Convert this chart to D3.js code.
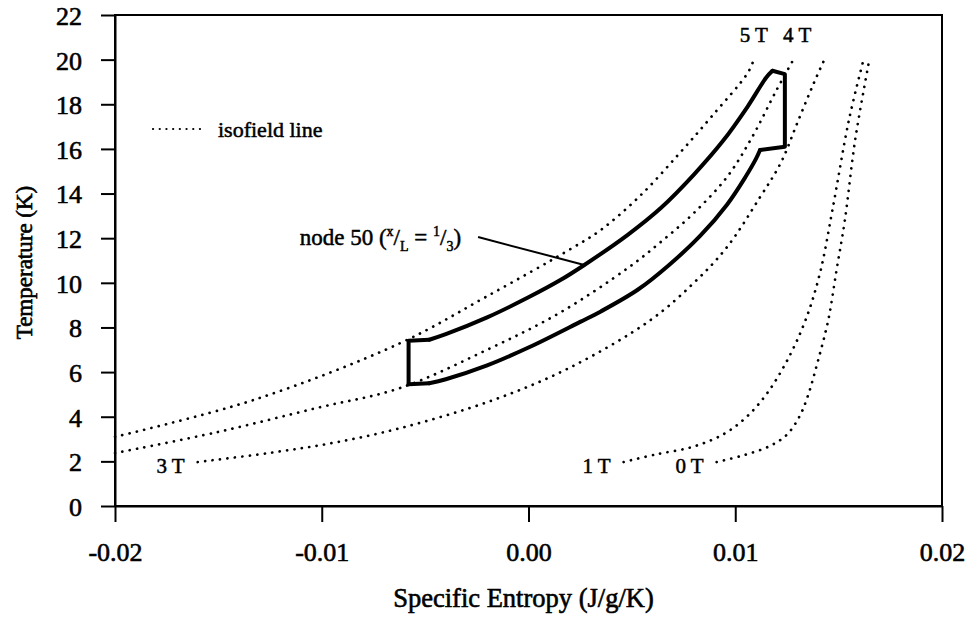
<!DOCTYPE html>
<html>
<head>
<meta charset="utf-8">
<script src="https://cdn.jsdelivr.net/npm/d3@7"></script>
<style>
  html, body { margin: 0; padding: 0; background: #fff; }
  svg { display: block; }
  text { font-family: "Liberation Serif", "Times New Roman", serif; fill: #000; }
</style>
</head>
<body>
<svg id="chart" width="971" height="617"></svg>
<script>
// Axis ticks
const xTickValues = [-0.02, -0.01, 0.00, 0.01, 0.02];
const xTickLabels = ["-0.02", "-0.01", "0.00", "0.01", "0.02"];
const yTickValues = [0, 2, 4, 6, 8, 10, 12, 14, 16, 18, 20, 22];

// Isofield lines: [specific entropy (J/g/K), temperature (K)]
const iso5T = [[-0.0200, 3.10], [-0.0133, 4.75], [-0.0062, 7.30], [-0.0020, 9.40], [0.0021, 11.55],
               [0.0035, 12.37], [0.0054, 13.90], [0.0073, 15.80], [0.0089, 17.50], [0.0106, 19.40], [0.0109, 20.00]];
const iso4T = [[-0.0200, 2.37], [-0.0151, 3.30], [-0.0102, 4.40], [-0.0062, 5.29], [-0.0020, 7.00],
               [0.0015, 8.65], [0.0048, 10.66], [0.0064, 11.83], [0.0080, 13.13], [0.0096, 14.74],
               [0.0108, 16.50], [0.0120, 18.64], [0.0128, 19.98]];
const iso3T = [[-0.0160, 1.97], [-0.0126, 2.37], [-0.0095, 2.82], [-0.0062, 3.49], [-0.0017, 4.75],
               [0.0020, 6.20], [0.0059, 8.33], [0.0080, 10.00], [0.0096, 11.60], [0.0112, 13.84],
               [0.0122, 15.37], [0.0130, 17.16], [0.0138, 18.95], [0.0143, 19.98]];
const iso1T = [[0.0046, 1.97], [0.0061, 2.30], [0.0079, 2.64], [0.0094, 3.20], [0.0105, 3.95],
               [0.0115, 5.00], [0.0125, 6.50], [0.0134, 8.33], [0.0141, 10.44], [0.0147, 13.26],
               [0.0155, 17.30], [0.0162, 19.98]];
const iso0T = [[0.0091, 1.97], [0.0105, 2.30], [0.0117, 2.70], [0.0125, 3.20], [0.0131, 4.00],
               [0.0135, 4.90], [0.0140, 6.50], [0.0145, 8.33], [0.0149, 10.57], [0.0153, 12.80],
               [0.0158, 16.40], [0.0165, 20.07]];
const isoNames = ["5 T", "4 T", "3 T", "1 T", "0 T"];

// Node 50 cycle, traced as separate legs
const cycleUpper = [[-0.0048, 7.45], [-0.0040, 7.70], [-0.0020, 8.45], [0.0000, 9.35], [0.0015, 10.10],
                    [0.0027, 10.80], [0.0048, 12.15], [0.0064, 13.35], [0.0080, 14.85], [0.0094, 16.35],
                    [0.0106, 17.90], [0.0115, 19.20], [0.0118, 19.50]];
const cycleLower = [[0.0112, 15.95], [0.0110, 15.55], [0.0105, 14.75], [0.0096, 13.50], [0.0083, 12.10],
                    [0.0068, 10.80], [0.0053, 9.70], [0.0035, 8.72], [0.0025, 8.25], [0.0000, 7.10],
                    [-0.0020, 6.30], [-0.0040, 5.68], [-0.0048, 5.50]];
const cycleCorners = {
  topLeft: [-0.0058, 7.40],
  topRight: [0.0124, 19.35],
  bottomRight: [0.0124, 16.10],
  bottomLeft: [-0.0058, 5.45]
};
const leader = [[-0.00244, 12.05], [0.0027, 10.80]];

const svg = d3.select("#chart");

const x = d3.scaleLinear().domain([-0.02, 0.02]).range([115, 942]);
const y = d3.scaleLinear().domain([0, 22]).range([506, 15]);

const ink = (sel, w) => sel.attr("stroke", "#000").attr("stroke-width", w);

// Frame
svg.append("rect")
  .attr("x", x(-0.02)).attr("y", y(22))
  .attr("width", x(0.02) - x(-0.02)).attr("height", y(0) - y(22))
  .attr("fill", "none").attr("stroke", "#000").attr("stroke-width", 2);

// X axis
const xAxis = svg.append("g")
  .attr("transform", `translate(0,${y(0)})`)
  .call(d3.axisBottom(x).tickValues(xTickValues)
        .tickFormat((d, i) => xTickLabels[i]).tickSize(16).tickSizeOuter(0).tickPadding(21));
xAxis.select(".domain").attr("stroke-width", 2);
xAxis.selectAll(".tick line").attr("stroke-width", 2);
xAxis.selectAll(".tick text").attr("font-size", 26).attr("font-family", "Liberation Serif")
  .call(ink, 0.6);

// Y axis
const yAxis = svg.append("g")
  .attr("transform", `translate(${x(-0.02)},0)`)
  .call(d3.axisLeft(y).tickValues(yTickValues).tickSize(14).tickSizeOuter(0).tickPadding(19));
yAxis.select(".domain").attr("stroke-width", 2);
yAxis.selectAll(".tick line").attr("stroke-width", 2);
yAxis.selectAll(".tick text").attr("font-size", 26).attr("font-family", "Liberation Serif")
  .attr("dy", "0.36em").call(ink, 0.6);

// Axis titles
svg.append("text")
  .attr("x", (x(-0.02) + x(0.02)) / 2 - 5).attr("y", 607)
  .attr("text-anchor", "middle").attr("font-size", 26.5)
  .call(ink, 0.6)
  .text("Specific Entropy (J/g/K)");
svg.append("text")
  .attr("transform", `translate(32,${(y(0) + y(22)) / 2 + 2}) rotate(-90)`)
  .attr("text-anchor", "middle").attr("font-size", 23)
  .call(ink, 0.6)
  .text("Temperature (K)");

// Isofield lines
const smooth = d3.line().x(d => x(d[0])).y(d => y(d[1])).curve(d3.curveCatmullRom.alpha(0.5));
const straight = d3.line().x(d => x(d[0])).y(d => y(d[1]));
const isoSeries = [iso5T, iso4T, iso3T, iso1T, iso0T];

svg.append("g").selectAll("path")
  .data(isoSeries)
  .join("path")
  .attr("d", smooth)
  .attr("fill", "none")
  .attr("stroke", "#000")
  .attr("stroke-width", 2.7)
  .attr("stroke-linecap", "round")
  .attr("stroke-dasharray", "0.1 7.4");

// Isofield labels: 5 T and 4 T above the top ends, the rest left of the lower ends
const labelG = svg.append("g").attr("font-size", 21).call(ink, 0.5);
[0, 1].forEach(i => {
  const end = isoSeries[i][isoSeries[i].length - 1];
  labelG.append("text")
    .attr("x", x(end[0]) + (i === 1 ? 4 : 0)).attr("y", y(end[1]) - 18)
    .attr("text-anchor", "middle").text(isoNames[i]);
});
[2, 3, 4].forEach(i => {
  const start = isoSeries[i][0];
  labelG.append("text")
    .attr("x", x(start[0]) - 13).attr("y", y(start[1]) + 11)
    .attr("text-anchor", "end").text(isoNames[i]);
});

// Node 50 cycle
const cyc = svg.append("g").attr("fill", "none").attr("stroke", "#000")
  .attr("stroke-width", 4).attr("stroke-linejoin", "round").attr("stroke-linecap", "round");
cyc.append("path").attr("d", smooth(cycleUpper));
cyc.append("path").attr("d", smooth(cycleLower));
cyc.append("path").attr("d", straight([cycleCorners.bottomLeft, cycleCorners.topLeft, cycleUpper[0]]));
cyc.append("path").attr("d", straight([cycleUpper[cycleUpper.length - 1], cycleCorners.topRight,
                                       cycleCorners.bottomRight, cycleLower[0]]));
cyc.append("path").attr("d", straight([cycleLower[cycleLower.length - 1], cycleCorners.bottomLeft]));

// Leader line and node label
svg.append("path").attr("d", straight(leader))
  .attr("fill", "none").attr("stroke", "#000").attr("stroke-width", 2);

const nodeLabel = svg.append("text")
  .attr("x", x(leader[0][0]) - 17).attr("y", y(leader[0][1]) + 8)
  .attr("text-anchor", "end").attr("font-size", 23)
  .call(ink, 0.5);
nodeLabel.append("tspan").text("node 50 (");
nodeLabel.append("tspan").attr("font-size", 14).attr("dy", -9).text("x");
nodeLabel.append("tspan").attr("dy", 9).text("/");
nodeLabel.append("tspan").attr("font-size", 14).attr("dy", 6).text("L");
nodeLabel.append("tspan").attr("dy", -6).text(" = ");
nodeLabel.append("tspan").attr("font-size", 14).attr("dy", -9).text("1");
nodeLabel.append("tspan").attr("dy", 9).text("/");
nodeLabel.append("tspan").attr("font-size", 14).attr("dy", 6).text("3");
nodeLabel.append("tspan").attr("dy", -6).text(")");

// Legend
const legend = svg.append("g");
legend.append("line")
  .attr("x1", 153).attr("x2", 200).attr("y1", 129).attr("y2", 129)
  .attr("stroke", "#000").attr("stroke-width", 2.2)
  .attr("stroke-linecap", "round").attr("stroke-dasharray", "0.1 6.6");
legend.append("text")
  .attr("x", 218).attr("y", 137).attr("font-size", 22)
  .call(ink, 0.5)
  .text("isofield line");
</script>
</body>
</html>
